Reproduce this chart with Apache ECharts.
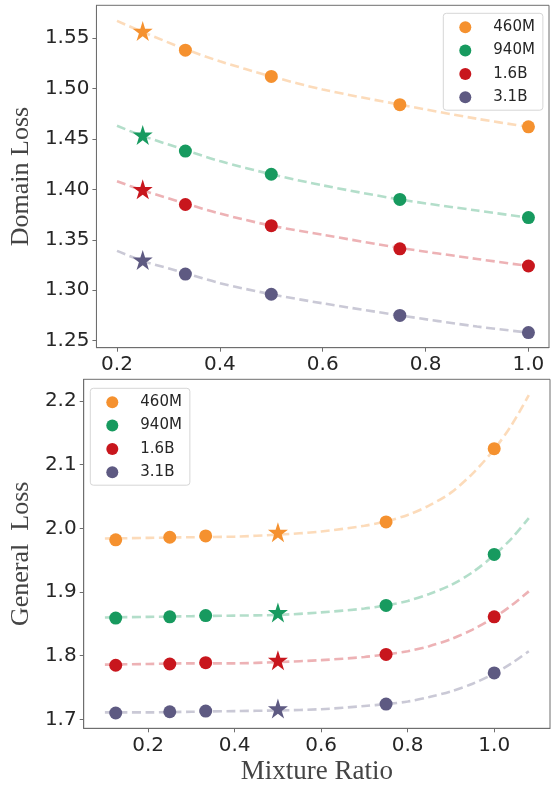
<!DOCTYPE html>
<html>
<head>
<meta charset="utf-8">
<script src="https://cdn.jsdelivr.net/npm/echarts@6/dist/echarts.min.js"></script>
<style>
html,body{margin:0;padding:0;background:#fff;}
#chart{width:553px;height:789px;}
</style>
</head>
<body>
<div id="chart"></div>
<script>
// ---- data ----
const sizes = ['460M', '940M', '1.6B', '3.1B'];
const colors = ['#F5912F', '#179A5F', '#C8161D', '#5E5A82'];

// Top panel: Domain Loss
const domainX = [0.333, 0.5, 0.75, 1.0];
const domainStarX = 0.25;
const domain460M = [1.538, 1.512, 1.484, 1.462];
const domain940M = [1.438, 1.415, 1.390, 1.372];
const domain1_6B = [1.385, 1.364, 1.341, 1.324];
const domain3_1B = [1.316, 1.296, 1.275, 1.258];
const domainStar = [1.557, 1.454, 1.400, 1.330];
const domainFitX = [0.2, 0.25, 0.333, 0.4, 0.5, 0.6, 0.75, 0.9, 1.0];
const domainFit460M = [1.567, 1.556, 1.539, 1.527, 1.512, 1.499, 1.484, 1.470, 1.462];
const domainFit940M = [1.463, 1.453, 1.439, 1.428, 1.415, 1.404, 1.390, 1.379, 1.372];
const domainFit1_6B = [1.408, 1.399, 1.386, 1.376, 1.364, 1.355, 1.342, 1.331, 1.324];
const domainFit3_1B = [1.339, 1.329, 1.317, 1.307, 1.296, 1.287, 1.275, 1.264, 1.258];
const domainTicksX = [0.2, 0.4, 0.6, 0.8, 1.0];
const domainTicksY = [1.25, 1.30, 1.35, 1.40, 1.45, 1.50, 1.55];

// Bottom panel: General Loss
const generalX = [0.125, 0.25, 0.333, 0.75, 1.0];
const generalStarX = 0.5;
const general460M = [1.982, 1.986, 1.988, 2.010, 2.125];
const general940M = [1.859, 1.861, 1.863, 1.879, 1.959];
const general1_6B = [1.785, 1.787, 1.789, 1.802, 1.861];
const general3_1B = [1.710, 1.712, 1.713, 1.724, 1.773];
const generalStar = [1.994, 1.868, 1.793, 1.717];
const generalFitX = [0.1, 0.2, 0.3, 0.4, 0.5, 0.6, 0.7, 0.75, 0.8, 0.85, 0.9, 0.95, 1.0, 1.04, 1.08];
const generalFit460M = [1.984, 1.985, 1.986, 1.987, 1.990, 1.995, 2.004, 2.011, 2.021, 2.036, 2.056, 2.086, 2.124, 2.162, 2.209];
const generalFit940M = [1.860, 1.861, 1.862, 1.863, 1.864, 1.868, 1.874, 1.879, 1.886, 1.897, 1.911, 1.931, 1.958, 1.984, 2.016];
const generalFit1_6B = [1.786, 1.787, 1.788, 1.788, 1.790, 1.793, 1.798, 1.802, 1.807, 1.815, 1.826, 1.841, 1.860, 1.879, 1.901];
const generalFit3_1B = [1.711, 1.711, 1.712, 1.713, 1.714, 1.716, 1.721, 1.724, 1.728, 1.735, 1.744, 1.756, 1.772, 1.788, 1.807];
const generalTicksX = [0.2, 0.4, 0.6, 0.8, 1.0];
const generalTicksY = [1.7, 1.8, 1.9, 2.0, 2.1, 2.2];

// ---- build ----
function starPath() {
  const pts = [];
  for (let i = 0; i < 10; i++) {
    const r = (i % 2 === 0) ? 100 : 38.2;
    const a = (-90 + i * 36) * Math.PI / 180;
    pts.push((r * Math.cos(a) + 100).toFixed(2) + ' ' + (r * Math.sin(a) + 100).toFixed(2));
  }
  return 'path://M' + pts.join(' L') + ' Z';
}
const STAR = starPath();

function hexA(hex, a) {
  const n = parseInt(hex.slice(1), 16);
  return 'rgba(' + ((n >> 16) & 255) + ',' + ((n >> 8) & 255) + ',' + (n & 255) + ',' + a + ')';
}
const zip = (xs, ys) => xs.map((x, i) => [x, ys[i]]);

const domainPts = [domain460M, domain940M, domain1_6B, domain3_1B];
const domainFits = [domainFit460M, domainFit940M, domainFit1_6B, domainFit3_1B];
const generalPts = [general460M, general940M, general1_6B, general3_1B];
const generalFits = [generalFit460M, generalFit940M, generalFit1_6B, generalFit3_1B];

const series = [];
function addPanel(idx, xs, ptsArr, fitX, fits, starX, stars) {
  sizes.forEach((s, i) => {
    series.push({
      type: 'line', name: s + ' fit', xAxisIndex: idx, yAxisIndex: idx,
      data: zip(fitX, fits[i]), showSymbol: false, smooth: 0.3,
      silent: true, z: 1,
      lineStyle: { color: hexA(colors[i], 0.33), width: 2.6, type: [9, 4.5] }
    });
  });
  sizes.forEach((s, i) => {
    series.push({
      type: 'scatter', name: s, xAxisIndex: idx, yAxisIndex: idx,
      data: zip(xs, ptsArr[i]), symbol: 'circle', symbolSize: 13, z: 3,
      itemStyle: { color: colors[i], opacity: 1 }
    });
    series.push({
      type: 'scatter', name: s, xAxisIndex: idx, yAxisIndex: idx,
      data: [[starX, stars[i]]], symbol: STAR, symbolSize: 20, z: 3,
      itemStyle: { color: colors[i], opacity: 1 }
    });
  });
}
addPanel(0, domainX, domainPts, domainFitX, domainFits, domainStarX, domainStar);
addPanel(1, generalX, generalPts, generalFitX, generalFits, generalStarX, generalStar);

const axisCol = '#6e6e6e';
const labelStyle = (digits) => ({
  show: true, fontFamily: 'DejaVu Sans', fontSize: 20, color: '#262626', margin: 7,
  formatter: v => Number(v).toFixed(digits)
});
function xAxisCfg(idx, min, max, ticks, digits, name) {
  return {
    type: 'value', gridIndex: idx, min: min, max: max,
    splitLine: { show: false },
    axisLine: { show: true, lineStyle: { color: axisCol, width: 1 } },
    axisTick: { show: true, length: 4, inside: false, lineStyle: { color: axisCol }, customValues: ticks },
    axisLabel: Object.assign(labelStyle(digits), { customValues: ticks }),
    name: name || '', nameLocation: 'middle', nameGap: 30,
    nameTextStyle: { fontFamily: 'Liberation Serif', fontSize: 27, color: '#444' }
  };
}
function yAxisCfg(idx, min, max, ticks, digits, name, gap) {
  return {
    type: 'value', gridIndex: idx, min: min, max: max,
    splitLine: { show: false },
    axisLine: { show: true, lineStyle: { color: axisCol, width: 1 } },
    axisTick: { show: true, length: 4, inside: false, lineStyle: { color: axisCol }, customValues: ticks },
    axisLabel: Object.assign(labelStyle(digits), { customValues: ticks }),
    name: name, nameLocation: 'middle', nameGap: gap,
    nameTextStyle: { fontFamily: 'Liberation Serif', fontSize: 26, color: '#444' }
  };
}
const legendCommon = {
  orient: 'vertical', data: sizes, icon: 'circle', itemWidth: 12, itemHeight: 12,
  itemGap: 7.3, backgroundColor: '#fff', borderColor: '#d6d6d6', borderWidth: 1, borderRadius: 3,
  padding: [6, 8, 5, 16], selectedMode: false,
  textStyle: { fontFamily: 'DejaVu Sans', fontSize: 15, color: '#262626', padding: [0, 0, 0, 17], lineHeight: 16 }
};

const chart = echarts.init(document.getElementById('chart'), null, { renderer: 'canvas' });
chart.setOption({
  animation: false,
  backgroundColor: '#fff',
  grid: [
    { left: 90.7, right: 4, top: 5.3, height: 342.4, show: true, borderColor: axisCol, borderWidth: 1, backgroundColor: 'transparent', containLabel: false },
    { left: 82.3, right: 3, top: 379.3, height: 349, show: true, borderColor: axisCol, borderWidth: 1, backgroundColor: 'transparent', containLabel: false }
  ],
  xAxis: [
    xAxisCfg(0, 0.16, 1.04, domainTicksX, 1, ''),
    xAxisCfg(1, 0.051, 1.129, generalTicksX, 1, 'Mixture Ratio')
  ],
  yAxis: [
    yAxisCfg(0, 1.243, 1.5825, domainTicksY, 2, 'Domain Loss', 57),
    yAxisCfg(1, 1.686, 2.234, generalTicksY, 1, 'General  Loss', 47)
  ],
  legend: [
    Object.assign({}, legendCommon, { left: 443.3, top: 13.3 }),
    Object.assign({}, legendCommon, { left: 90.3, top: 388.3 })
  ],
  series: series
});
</script>
</body>
</html>
